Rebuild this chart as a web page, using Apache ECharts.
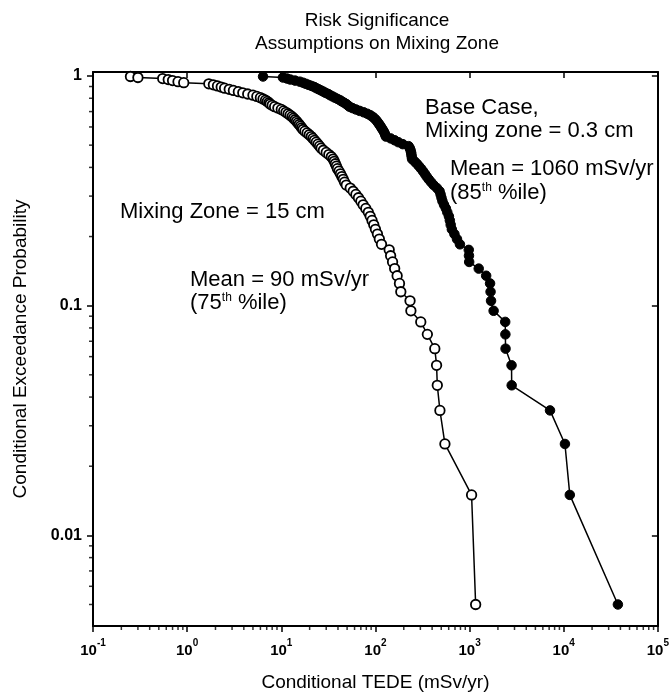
<!DOCTYPE html>
<html><head><meta charset="utf-8">
<script src="https://cdn.jsdelivr.net/npm/echarts@6/dist/echarts.min.js"></script>
<style>html,body{margin:0;padding:0;background:#fff}#c{width:672px;height:697px}</style>
</head><body><div id="c"></div>
<script>
// Conditional exceedance probabilities (100 realizations, plotting positions)
const probabilities = [
  0.995,0.985,0.975,0.965,0.955,0.945,0.935,0.925,0.915,0.905,
  0.895,0.885,0.875,0.865,0.855,0.845,0.835,0.825,0.815,0.805,
  0.795,0.785,0.775,0.765,0.755,0.745,0.735,0.725,0.715,0.705,
  0.695,0.685,0.675,0.665,0.655,0.645,0.635,0.625,0.615,0.605,
  0.595,0.585,0.575,0.565,0.555,0.545,0.535,0.525,0.515,0.505,
  0.495,0.485,0.475,0.465,0.455,0.445,0.435,0.425,0.415,0.405,
  0.395,0.385,0.375,0.365,0.355,0.345,0.335,0.325,0.315,0.305,
  0.295,0.285,0.275,0.265,0.255,0.245,0.235,0.225,0.215,0.205,
  0.195,0.185,0.175,0.165,0.155,0.145,0.135,0.125,0.115,0.105,
  0.095,0.085,0.075,0.065,0.055,0.045,0.035,0.025,0.015,0.005
];
// Conditional TEDE (mSv/yr), Mixing Zone = 15 cm (open circles)
const mixingZone15cm = [
  0.25,0.30,0.55,0.63,0.70,0.80,0.92,1.7,1.9,2.1,
  2.3,2.5,2.8,3.1,3.5,3.9,4.4,5.0,5.5,6.0,
  6.4,6.8,7.1,7.4,7.6,8.0,8.5,9.2,10.0,10.6,
  11.2,11.8,12.4,13.0,13.5,14.0,14.5,15.0,15.5,16.0,
  16.5,17.0,17.8,18.8,19.8,20.8,21.7,22.5,23.5,24.5,
  25.5,26.5,28,30,32,34,35.5,36.5,37.5,38.5,
  39.5,41,42.5,44,45.5,47,49,54,58,62,
  66,70,74,79,84,88,92,96,100,105,
  110,116,140,145,152,160,170,180,186,233,
  238,303,356,427,446,454,484,547,1050,1160
];
// Conditional TEDE (mSv/yr), Base Case, Mixing zone = 0.3 cm (filled circles)
const baseCase03cm = [
  6.4,10.4,11.5,12.5,14,15.7,17,18.2,19.5,21,
  22.5,23.6,25,26.5,28,29.5,31.5,33,35,37,
  39.5,42,44,46.5,49,51,53,57,62,68,
  75,82,88,93,97,101,104,107,110,113,
  116,119,122,125,127,129,145,160,175,195,
  225,232,236,239,241,243,245,260,275,290,
  305,320,335,350,368,390,415,450,480,492,
  503,515,535,560,580,603,617,630,648,690,
  735,790,980,985,990,1250,1500,1650,1670,1690,
  1800,2390,2400,2410,2790,2800,7150,10300,11600,37600
];
const xRange = [0.1, 100000];
const yRange = [0.00403, 1.041];
const xTickExponents = {'0.1':'-1','1':'0','10':'1','100':'2','1000':'3','10000':'4','100000':'5'};
const yTickLabels = {'1':'1','0.1':'0.1','0.01':'0.01'};
const minorMantissas = [2,3,4,5,6,7,8,9];
const xDecades = [0.1,1,10,100,1000,10000];
const yMinorTicks = [0.005,0.006,0.007,0.008,0.009,0.02,0.03,0.04,0.05,0.06,0.07,0.08,0.09,0.2,0.3,0.4,0.5,0.6,0.7,0.8,0.9];

const FONT = 'Arial, "Liberation Sans", sans-serif';
const xMinorTicks = [];
xDecades.forEach(d => minorMantissas.forEach(m => xMinorTicks.push(+(d*m).toPrecision(3))));

function pairs(xs, ys){ return xs.map((x,i)=>[x, ys[i]]); }

const chart = echarts.init(document.getElementById('c'), null, {renderer:'canvas'});
const axisLine = {show:true, lineStyle:{color:'#000', width:2}};
const supRich = {s:{fontSize:12, fontFamily:FONT, verticalAlign:'top', fill:'#000', lineHeight:14}};
chart.setOption({
  animation:false,
  backgroundColor:'#fff',
  grid:{left:93, right:12, top:72, bottom:70, containLabel:false},
  xAxis:[
    {type:'log', logBase:10, min:xRange[0], max:xRange[1], position:'bottom',
     axisLine:axisLine, splitLine:{show:false},
     axisTick:{show:true, inside:false, length:6, lineStyle:{color:'#000', width:1.5}},
     axisLabel:{margin:12, color:'#000',
       formatter:function(v){ const e = xTickExponents[String(+v.toPrecision(6))]; return e===undefined?'':'{b|10}{s|'+e+'}'; },
       rich:{b:{fontFamily:FONT, fontSize:15, fontWeight:'bold', color:'#000', lineHeight:20, verticalAlign:'bottom'},
             s:{fontFamily:FONT, fontSize:10, fontWeight:'bold', color:'#000', lineHeight:20, verticalAlign:'top'}}},
     name:'Conditional TEDE (mSv/yr)', nameLocation:'middle', nameGap:47,
     nameTextStyle:{fontFamily:FONT, fontSize:19, color:'#000'}},
    {type:'log', logBase:10, min:xRange[0], max:xRange[1], position:'top',
     axisLine:axisLine, splitLine:{show:false}, axisLabel:{show:false},
     axisTick:{show:true, inside:true, length:6, lineStyle:{color:'#000', width:1.5}}}
  ],
  yAxis:[
    {type:'log', logBase:10, min:yRange[0], max:yRange[1], position:'left',
     axisLine:axisLine, splitLine:{show:false},
     axisTick:{show:true, inside:false, length:6, lineStyle:{color:'#000', width:1.5}},
     axisLabel:{showMinLabel:false, showMaxLabel:false, margin:11, color:'#000',
       fontFamily:FONT, fontSize:16, fontWeight:'bold',
       formatter:function(v){ const l = yTickLabels[String(+v.toPrecision(6))]; return l===undefined?'':l; }},
     name:'Conditional Exceedance Probability', nameLocation:'middle', nameGap:63, nameRotate:90,
     nameTextStyle:{fontFamily:FONT, fontSize:19, color:'#000'}},
    {type:'log', logBase:10, min:yRange[0], max:yRange[1], position:'right',
     axisLine:axisLine, splitLine:{show:false}, axisLabel:{show:false},
     axisTick:{show:true, inside:true, length:6, lineStyle:{color:'#000', width:1.5}}}
  ],
  series:[
    {type:'scatter', name:'xMinor', xAxisIndex:0, yAxisIndex:0, silent:true, clip:false,
     data:xMinorTicks.map(v=>[v, yRange[0]]), symbol:'rect', symbolSize:[1.5,4], symbolOffset:[0,2],
     itemStyle:{color:'#000'}, z:5},
    {type:'scatter', name:'yMinor', xAxisIndex:0, yAxisIndex:0, silent:true, clip:false,
     data:yMinorTicks.map(v=>[xRange[0], v]), symbol:'rect', symbolSize:[4,1.5], symbolOffset:[-2,0],
     itemStyle:{color:'#000'}, z:5},
    {type:'line', name:'Base Case, Mixing zone = 0.3 cm', xAxisIndex:0, yAxisIndex:0,
     data:pairs(baseCase03cm, probabilities), symbol:'circle', symbolSize:9.5, showAllSymbol:true,
     lineStyle:{color:'#000', width:1.5}, itemStyle:{color:'#000', borderColor:'#000', borderWidth:1}, z:3},
    {type:'line', name:'Mixing Zone = 15 cm', xAxisIndex:0, yAxisIndex:0,
     data:pairs(mixingZone15cm, probabilities), symbol:'circle', symbolSize:9.5, showAllSymbol:true,
     lineStyle:{color:'#000', width:1.5}, itemStyle:{color:'#fff', borderColor:'#000', borderWidth:1.8}, z:4}
  ],
  graphic:[
    {type:'text', x:377, y:21, style:{text:'Risk Significance', font:'19px '+FONT, fill:'#000', textAlign:'center', textVerticalAlign:'middle', verticalAlign:'middle'}},
    {type:'text', x:377, y:44, style:{text:'Assumptions on Mixing Zone', font:'19px '+FONT, fill:'#000', textAlign:'center', textVerticalAlign:'middle', verticalAlign:'middle'}},
    {type:'text', x:425, y:108, style:{text:'Base Case,', font:'22px '+FONT, fill:'#000', verticalAlign:'middle', textVerticalAlign:'middle'}},
    {type:'text', x:425, y:131, style:{text:'Mixing zone = 0.3 cm', font:'22px '+FONT, fill:'#000', verticalAlign:'middle', textVerticalAlign:'middle'}},
    {type:'text', x:450, y:169, style:{text:'Mean = 1060 mSv/yr', font:'22px '+FONT, fill:'#000', verticalAlign:'middle', textVerticalAlign:'middle'}},
    {type:'text', x:450, y:193, style:{text:'(85{s|th} %ile)', font:'22px '+FONT, fill:'#000', verticalAlign:'middle', textVerticalAlign:'middle', rich:supRich}},
    {type:'text', x:120, y:212, style:{text:'Mixing Zone = 15 cm', font:'22px '+FONT, fill:'#000', verticalAlign:'middle', textVerticalAlign:'middle'}},
    {type:'text', x:190, y:280, style:{text:'Mean = 90 mSv/yr', font:'22px '+FONT, fill:'#000', verticalAlign:'middle', textVerticalAlign:'middle'}},
    {type:'text', x:190, y:303, style:{text:'(75{s|th} %ile)', font:'22px '+FONT, fill:'#000', verticalAlign:'middle', textVerticalAlign:'middle', rich:supRich}}
  ]
});
</script>
</body></html>
